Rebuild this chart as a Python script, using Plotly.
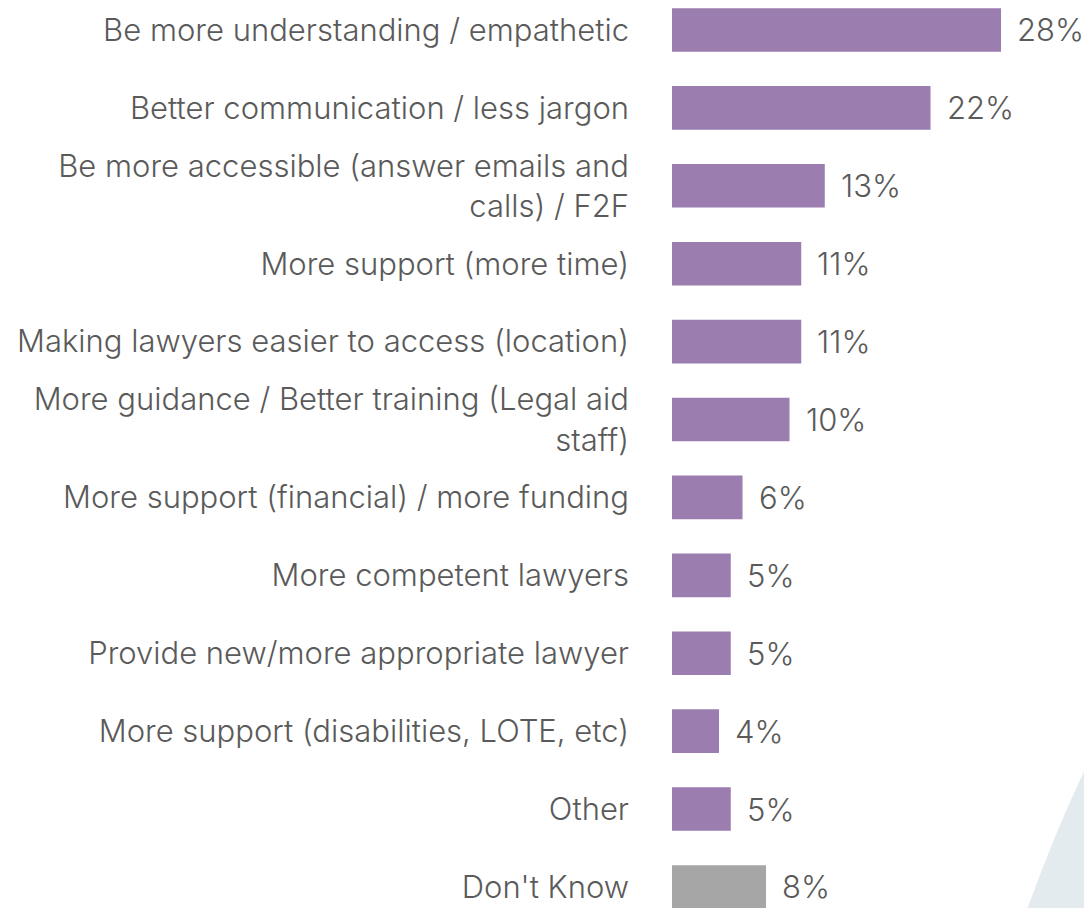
import plotly.graph_objects as go

# Survey responses: suggested improvements for lawyers
categories = [
    "Be more understanding / empathetic",
    "Better communication / less jargon",
    "Be more accessible (answer emails and<br>calls) / F2F",
    "More support (more time)",
    "Making lawyers easier to access (location)",
    "More guidance / Better training (Legal aid<br>staff)",
    "More support (financial) / more funding",
    "More competent lawyers",
    "Provide new/more appropriate lawyer",
    "More support (disabilities, LOTE, etc)",
    "Other",
    "Don't Know",
]
values = [28, 22, 13, 11, 11, 10, 6, 5, 5, 4, 5, 8]
value_labels = ["28%", "22%", "13%", "11%", "11%", "10%", "6%", "5%", "5%", "4%", "5%", "8%"]

PURPLE = "#9B7DB0"
GREY = "#A6A6A6"
TEXT = "#5A5A5A"
FONT = "Inter"

W, H = 1084, 908
LEFT = 672

positions = list(range(len(categories)))
colors = [GREY if c == "Don't Know" else PURPLE for c in categories]

fig = go.Figure()
fig.add_trace(go.Bar(
    x=values,
    y=positions,
    orientation="h",
    marker=dict(color=colors, line=dict(width=0)),
    width=0.56,
    hoverinfo="skip",
))

for v, lab, p in zip(values, value_labels, positions):
    fig.add_annotation(
        x=v, y=p, text=lab, showarrow=False,
        xanchor="left", yanchor="middle", xshift=14,
        font=dict(family=FONT, size=31, color=TEXT, weight=300),
    )

# soft decorative arc in the lower-right corner
cx, cy, r = 2479, 1426, 1541
pw = W - LEFT
fig.add_shape(
    type="circle", xref="paper", yref="paper", layer="below",
    x0=(cx - r - LEFT) / pw, x1=(cx + r - LEFT) / pw,
    y0=1 - (cy + r) / H, y1=1 - (cy - r) / H,
    fillcolor="#E3EBEE", line=dict(width=0),
)

fig.update_layout(
    width=W, height=H,
    margin=dict(l=LEFT, r=0, t=0, b=0, autoexpand=False),
    paper_bgcolor="white",
    plot_bgcolor="rgba(0,0,0,0)",
    showlegend=False,
    xaxis=dict(range=[0, 35.06], visible=False, fixedrange=True),
    yaxis=dict(
        range=[11.27, -0.385], autorange=False,
        tickvals=positions, ticktext=categories,
        showgrid=False, zeroline=False, showline=False,
        ticks="", ticklabelstandoff=42,
        tickfont=dict(family=FONT, size=31, color=TEXT, weight=300),
        automargin=False, fixedrange=True,
    ),
)

fig.write_html("out.html")
